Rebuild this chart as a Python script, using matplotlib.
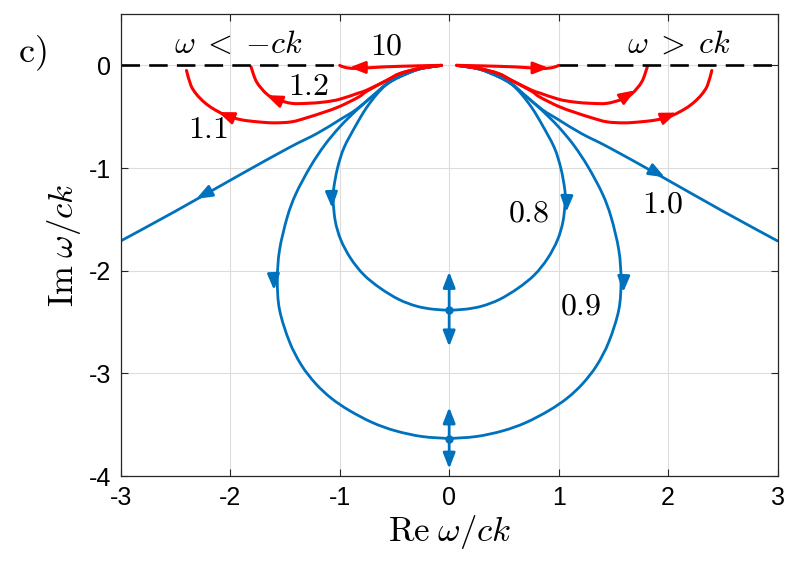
import numpy as np
import matplotlib.pyplot as plt
from matplotlib.path import Path
from matplotlib.patches import PathPatch

plt.rcParams['mathtext.fontset'] = 'cm'
plt.rcParams['axes.unicode_minus'] = False
plt.rcParams['font.family'] = 'Liberation Sans'

blue = '#0072BD'
red = '#FF0000'

# right half of every branch (left half is its mirror)
b08_x = [0.07, 0.27, 0.45, 0.57, 0.66, 0.76, 0.85, 0.96, 1.02, 1.055, 1.06, 1.04, 0.99, 0.90, 0.78, 0.63, 0.46, 0.30, 0.15, 0.0]
b08_y = [0.0, -0.035, -0.11, -0.185, -0.28, -0.42, -0.58, -0.80, -1.0, -1.2, -1.32, -1.52, -1.70, -1.88, -2.04, -2.17, -2.28, -2.345, -2.375, -2.385]

b09_x = [0.07, 0.27, 0.45, 0.57, 0.68, 0.85, 1.0, 1.14, 1.27, 1.40, 1.48, 1.55, 1.57, 1.55, 1.46, 1.35, 1.22, 1.08, 0.915, 0.70, 0.49, 0.25, 0.0]
b09_y = [0.0, -0.035, -0.11, -0.18, -0.28, -0.44, -0.60, -0.78, -0.99, -1.25, -1.48, -1.80, -2.09, -2.38, -2.69, -2.92, -3.10, -3.24, -3.36, -3.48, -3.56, -3.615, -3.635]

b10_x = [0.07, 0.27, 0.45, 0.57, 0.68, 0.85, 1.0, 1.21, 1.46, 1.92, 2.5, 3.0]
b10_y = [0.0, -0.035, -0.11, -0.18, -0.28, -0.43, -0.53, -0.665, -0.80, -1.071, -1.42, -1.71]

r10_x = [0.07, 0.3, 0.6, 0.85, 0.95, 1.0]
r10_y = [0.0, -0.005, -0.015, -0.03, -0.02, 0.0]

r12_x = [0.07, 0.27, 0.45, 0.57, 0.75, 0.83, 1.0, 1.14, 1.30, 1.44, 1.58, 1.67, 1.76, 1.81]
r12_y = [0.0, -0.03, -0.08, -0.146, -0.24, -0.27, -0.33, -0.357, -0.37, -0.37, -0.33, -0.276, -0.16, -0.016]

r11_x = [0.07, 0.27, 0.45, 0.57, 0.75, 0.83, 1.0, 1.14, 1.30, 1.44, 1.6, 1.75, 1.9, 2.04, 2.16, 2.24, 2.31, 2.36, 2.40]
r11_y = [0.0, -0.03, -0.08, -0.146, -0.25, -0.31, -0.40, -0.455, -0.51, -0.55, -0.56, -0.55, -0.53, -0.487, -0.42, -0.357, -0.28, -0.195, -0.05]

# arrow heads on the branches: tail x, tail y, tip x, tip y, colour
arrows = [
    (1.85, -1.02, 1.97, -1.09, blue), (-2.18, -1.225, -2.31, -1.30, blue),
    (1.075, -1.28, 1.07, -1.43, blue), (-1.075, -1.24, -1.07, -1.39, blue),
    (1.595, -2.06, 1.59, -2.21, blue), (-1.605, -2.04, -1.60, -2.19, blue),
    (0.75, -0.025, 0.91, -0.025, red), (-0.75, -0.02, -0.91, -0.02, red),
    (1.60, -0.31, 1.70, -0.243, red), (-1.55, -0.345, -1.67, -0.29, red),
    (1.95, -0.515, 2.08, -0.46, red), (-1.98, -0.51, -2.11, -0.455, red),
]

# collision points on the imaginary axis and where the arrows go
meet_y = [-2.385, -3.635]
up_y = [-2.01, -3.33]
down_y = [-2.74, -3.93]

labels = ['10', '1.2', '1.1', '0.8', '0.9', '1.0']
label_x = [-0.57, -1.28, -2.2, 0.73, 1.2, 1.95]
label_y = [0.18, -0.21, -0.63, -1.44, -2.35, -1.36]


def smooth_path(xs, ys):
    # cubic bezier through the read points so the renderer draws a smooth curve
    p = np.column_stack([xs, ys]).astype(float)
    ext = np.vstack([p[0], p, p[-1]])
    verts = [p[0]]
    codes = [Path.MOVETO]
    for i in range(len(p) - 1):
        c1 = ext[i + 1] + (ext[i + 2] - ext[i]) / 6
        c2 = ext[i + 2] - (ext[i + 3] - ext[i + 1]) / 6
        verts += [c1, c2, p[i + 1]]
        codes += [Path.CURVE4] * 3
    return Path(verts, codes)


fig = plt.figure(figsize=(8.11, 5.61), dpi=100)
ax = fig.add_axes([0.149, 0.1515, 0.8097, 0.8235])

curves = [(b08_x, b08_y, blue, 2.0), (b09_x, b09_y, blue, 2.0), (b10_x, b10_y, blue, 2.0),
          (r10_x, r10_y, red, 2.2), (r12_x, r12_y, red, 2.2), (r11_x, r11_y, red, 2.2)]
for xs, ys, c, w in curves:
    xs = np.array(xs)
    for sx in (xs, -xs):
        ax.add_patch(PathPatch(smooth_path(sx, ys), fill=False, edgecolor=c, lw=w,
                               capstyle='round', joinstyle='round'))

head = '-|>,head_length=0.85,head_width=0.33'
for x0, y0, x1, y1, c in arrows:
    ax.annotate('', xy=(x1, y1), xytext=(x0, y0),
                arrowprops=dict(arrowstyle=head, color=c, lw=2.0, shrinkA=0, shrinkB=0,
                                mutation_scale=11))

for m, u, d in zip(meet_y, up_y, down_y):
    for tip in (u, d):
        ax.annotate('', xy=(0, tip), xytext=(0, m),
                    arrowprops=dict(arrowstyle=head, color=blue, lw=2.0, shrinkA=0, shrinkB=0,
                                    mutation_scale=11))
    ax.plot(0, m, 'o', color=blue, ms=5)

ax.plot([-3, -1], [0, 0], color='k', lw=1.9, ls=(0, (7, 3.5)))
ax.plot([1, 3], [0, 0], color='k', lw=1.9, ls=(0, (7, 3.5)))

for t, x, y in zip(labels, label_x, label_y):
    ax.text(x, y, '$' + t + '$', fontsize=23, ha='center', va='center')

ax.text(-1.93, 0.2, r'$\omega\;<\;{-}ck$', fontsize=23, ha='center', va='center')
ax.text(2.1, 0.2, r'$\omega\;>\;ck$', fontsize=23, ha='center', va='center')
fig.text(0.040, 0.905, r'$\mathrm{c)}$', fontsize=26, ha='center', va='center')

ax.set_xlim(-3, 3)
ax.set_ylim(-4, 0.5)
ax.set_xticks(range(-3, 4))
ax.set_yticks(range(-4, 1))
ax.grid(True, color='#dddddd', lw=0.8)
ax.set_axisbelow(True)
ax.tick_params(direction='in', top=True, right=True, length=5, labelsize=18,
               color='#262626', pad=7)
for s in ax.spines.values():
    s.set_color('#262626')
    s.set_linewidth(0.9)

ax.set_xlabel(r'$\mathrm{Re}\;\omega/ck$', fontsize=25, labelpad=2)
ax.set_ylabel(r'$\mathrm{Im}\;\omega/ck$', fontsize=25, labelpad=4)

fig.savefig('out.png', dpi=100)
